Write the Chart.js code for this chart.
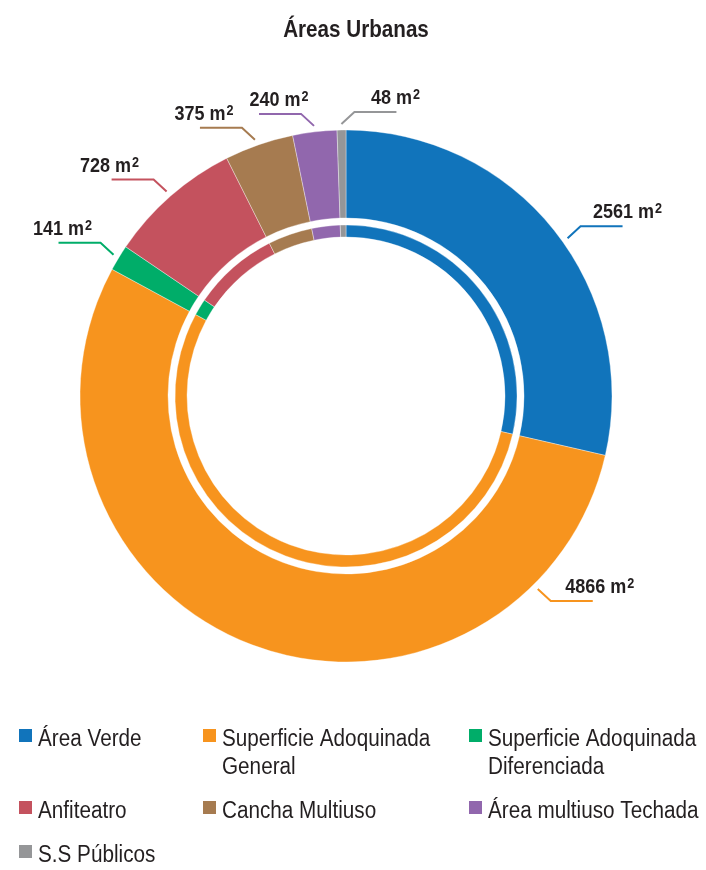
<!DOCTYPE html>
<html>
<head>
<meta charset="utf-8">
<script src="https://cdn.jsdelivr.net/npm/chart.js@4.4.1/dist/chart.umd.min.js"></script>
<style>
    html, body { margin: 0; padding: 0; background: #fff; }
</style>
</head>
<body>
<canvas id="areasChart" width="706" height="870"></canvas>
<script>
const categories = [
    'Área Verde',
    'Superficie Adoquinada General',
    'Superficie Adoquinada Diferenciada',
    'Anfiteatro',
    'Cancha Multiuso',
    'Área multiuso Techada',
    'S.S Públicos'
];
const areas = [2561, 4866, 141, 728, 375, 240, 48];
const sliceColors = ['#1174bb', '#f7941e', '#00ad69', '#c4525e', '#a67b50', '#9167ad', '#959698'];

// where along each slice the callout leaves the ring, which way it turns,
// and how far the value text sits past the middle of its leader
const calloutAt = [0.53, 0.165, 0.5, 0.5, 0.47, 0.5, 0.5];
const calloutSide = [1, 1, -1, -1, -1, -1, 1];
const calloutTextShift = [26, 28, 17, 23, 17, 1, 20];

const FONT = "'Liberation Sans', Arial, sans-serif";
const INK = '#231f20';

// condensed look: draw text squeezed horizontally
function squeezedText(ctx, text, x, y, font, sx, align) {
    ctx.save();
    ctx.font = font;
    ctx.textAlign = align || 'left';
    ctx.textBaseline = 'alphabetic';
    ctx.translate(x, y);
    ctx.scale(sx, 1);
    ctx.fillText(text, 0, 0);
    ctx.restore();
}
function squeezedWidth(ctx, text, font, sx) {
    ctx.save();
    ctx.font = font;
    const w = ctx.measureText(text).width * sx;
    ctx.restore();
    return w;
}

const titlePlugin = {
    id: 'titleText',
    afterDraw(chart) {
        const ctx = chart.ctx;
        ctx.fillStyle = INK;
        squeezedText(ctx, 'Áreas Urbanas', 356, 37, `bold 24px ${FONT}`, 0.86, 'center');
    }
};

const callouts = {
    id: 'callouts',
    afterDatasetsDraw(chart) {
        const ctx = chart.ctx;
        const arcs = chart.getDatasetMeta(0).data;
        const big = `bold 20px ${FONT}`;
        const small = `bold 14px ${FONT}`;
        const sx = 0.9;
        arcs.forEach((arc, i) => {
            const { x, y, startAngle, endAngle, outerRadius } =
                arc.getProps(['x', 'y', 'startAngle', 'endAngle', 'outerRadius'], true);
            const a = startAngle + (endAngle - startAngle) * calloutAt[i];
            const side = calloutSide[i];
            const r = outerRadius + 6;
            const x0 = x + Math.cos(a) * r;
            const y0 = y + Math.sin(a) * r;
            const x1 = x0 + side * 13;
            const y1 = y0 + (Math.sin(a) < 0 ? -12 : 12);
            const x2 = x1 + side * 42;

            ctx.save();
            ctx.strokeStyle = sliceColors[i];
            ctx.lineWidth = 2;
            ctx.beginPath();
            ctx.moveTo(x0, y0);
            ctx.lineTo(x1, y1);
            ctx.lineTo(x2, y1);
            ctx.stroke();

            const main = areas[i] + ' m';
            const w1 = squeezedWidth(ctx, main, big, sx);
            const w2 = squeezedWidth(ctx, '2', small, sx);
            const tw = w1 + 1 + w2;
            const mid = (x1 + x2) / 2 + side * calloutTextShift[i];
            const tx = mid - tw / 2;
            const ty = y1 - 8;

            ctx.fillStyle = INK;
            squeezedText(ctx, main, tx, ty, big, sx);
            squeezedText(ctx, '2', tx + w1 + 1, ty - 5, small, sx);
            ctx.restore();
        });
    }
};

// three-column legend under the ring, long names wrap onto a second line
const legendGrid = {
    id: 'legendGrid',
    afterDraw(chart) {
        const ctx = chart.ctx;
        const font = `23px ${FONT}`;
        const sx = 0.9;
        const colX = [19, 203, 469];
        const colWidth = 215;
        const lineH = 28;
        const rowGap = 44;

        const wrap = (text) => {
            const words = text.split(' ');
            const lines = [];
            let cur = '';
            words.forEach(w => {
                const test = cur ? cur + ' ' + w : w;
                if (cur && squeezedWidth(ctx, test, font, sx) > colWidth) {
                    lines.push(cur);
                    cur = w;
                } else {
                    cur = test;
                }
            });
            lines.push(cur);
            return lines;
        };

        ctx.save();
        let baseline = 746;
        for (let row = 0; row * 3 < categories.length; row++) {
            let maxLines = 1;
            for (let c = 0; c < 3; c++) {
                const i = row * 3 + c;
                if (i >= categories.length) break;
                const lines = wrap(categories[i]);
                maxLines = Math.max(maxLines, lines.length);
                ctx.fillStyle = sliceColors[i];
                ctx.fillRect(colX[c], baseline - 17, 13, 13);
                ctx.fillStyle = INK;
                lines.forEach((ln, k) => squeezedText(ctx, ln, colX[c] + 19, baseline + k * lineH, font, sx));
            }
            baseline += (maxLines - 1) * lineH + rowGap;
        }
        ctx.restore();
    }
};

const ringData = {
    labels: categories,
    datasets: [
        {
            data: areas,
            backgroundColor: sliceColors,
            borderColor: 'rgba(255,255,255,0.6)',
            borderWidth: 0.6,
            weight: 88
        },
        {
            data: areas,
            backgroundColor: 'rgba(0,0,0,0)',
            borderWidth: 0,
            weight: 7
        },
        {
            data: areas,
            backgroundColor: sliceColors,
            borderColor: 'rgba(255,255,255,0.6)',
            borderWidth: 0.6,
            weight: 12
        }
    ]
};

new Chart(document.getElementById('areasChart'), {
    type: 'doughnut',
    data: ringData,
    options: {
        responsive: false,
        animation: false,
        events: [],
        radius: 266,
        cutout: '59.77%',
        hoverOffset: 0,
        layout: { padding: { top: 60, bottom: 138, left: 0, right: 14 } },
        plugins: {
            legend: { display: false },
            title: { display: false },
            tooltip: { enabled: false }
        }
    },
    plugins: [titlePlugin, callouts, legendGrid]
});
</script>
</body>
</html>
